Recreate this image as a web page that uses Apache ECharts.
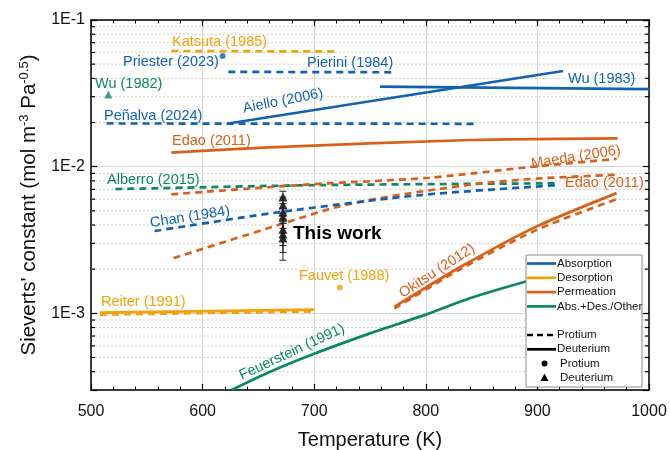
<!DOCTYPE html>
<html><head><meta charset="utf-8">
<script src="https://cdn.jsdelivr.net/npm/echarts@6/dist/echarts.min.js"></script>
<style>html,body{margin:0;padding:0;background:#fff}#c{width:670px;height:450px}</style>
</head><body><div id="c"></div>
<script>
// ---------- data ----------
const xTicks = [500, 600, 700, 800, 900, 1000];
const yTickLabels = ['1E-3', '1E-2', '1E-1'];
const minorY = [4e-4,5e-4,6e-4,7e-4,8e-4,9e-4, 2e-3,3e-3,4e-3,5e-3,6e-3,7e-3,8e-3,9e-3, 2e-2,3e-2,4e-2,5e-2,6e-2,7e-2,8e-2,9e-2];

// Absorption (blue)
const pierini = [[623, 0.0443], [770, 0.0440]];                 // protium, dashed
const penalva = [[514, 0.0197], [846, 0.0196]];                 // protium, dashed
const aiello  = [[623, 0.0197], [923, 0.0449]];                 // deuterium, solid
const wu1983  = [[759, 0.0351], [1000, 0.0338]];                // deuterium, solid
const chan    = [[557, 0.00364], [669, 0.0049], [795, 0.0064], [920, 0.0075]]; // protium, dashed
const priester = [[618, 0.0568]];                               // protium point
// Desorption (orange-yellow)
const katsuta = [[572, 0.0615], [720, 0.0610]];                 // protium, dashed
const reiterD = [[508, 0.00101], [700, 0.00106]];               // deuterium, solid
const reiterP = [[508, 0.00098], [700, 0.00103]];               // protium, dashed
const fauvet  = [[723, 0.00150]];                               // protium point
// Permeation (dark orange)
const edaoD   = [[572, 0.01245], [660, 0.01355], [840, 0.0152], [972, 0.0156]];
const edaoP   = [[574, 0.00238], [669, 0.00403], [720, 0.0053], [759, 0.0061], [795, 0.00675], [850, 0.0077], [900, 0.0083], [971, 0.0088]];
const maeda   = [[572, 0.00647], [687, 0.0075], [803, 0.0084], [891, 0.0099], [971, 0.0113]];
const okitsuD = [[772, 0.00111], [831, 0.00207], [899, 0.0039], [971, 0.0066]];
const okitsuP = [[772, 0.00108], [831, 0.00200], [899, 0.0037], [971, 0.0060]];
// Abs.+Des./Other (green)
const alberro = [[522, 0.00703], [705, 0.00749], [920, 0.0077]];
const feuer   = [[626, 0.0003], [660, 0.000398], [700, 0.00053], [750, 0.00073], [800, 0.00098], [840, 0.00127], [889, 0.00164], [930, 0.00198]];
const wu1982  = [[515.5, 0.0311]];
// This work (deuterium)
const thisT   = 672;
const thisV   = [0.00621, 0.00547, 0.00490, 0.00453, 0.00375, 0.00347, 0.00326];
const thisLo  = [0.0056, 0.0048, 0.0042, 0.0038, 0.0029, 0.0026, 0.0023];
const thisHi  = [0.0068, 0.0062, 0.0056, 0.0052, 0.0046, 0.0044, 0.0041];

// ---------- styles ----------
const ABS = '#1262b3', DES = '#f5a20a', PER = '#d9601a', GRN = '#0b8866';
const FONT = '"Liberation Sans", Arial, sans-serif';
const DASH = [7, 5];

function line(data, color, dashed, w) {
  return { type: 'line', data: data, showSymbol: false, symbol: 'none',
    smooth: data.length > 2 ? 0.25 : false,
    lineStyle: { color: color, width: w || 2.7, type: dashed ? DASH : 'solid', cap: 'butt' }, z: 3, silent: true };
}
function pts(data, color, sym, size) {
  return { type: 'scatter', data: data, symbol: sym, symbolSize: size, itemStyle: { color: color }, z: 4, silent: true };
}

const chart = echarts.init(document.getElementById('c'), null, { renderer: 'canvas' });
const G = { left: 91, right: 21, top: 20, bottom: 60, containLabel: false, outerBoundsMode: 'none' };

function logLabel(v) {
  const l = Math.log10(v), n = Math.round(l);
  if (Math.abs(l - n) > 1e-6) return '';
  const s = '1E' + n;
  return yTickLabels.indexOf(s) >= 0 ? s : '';
}

const series = [
  { type: 'custom', silent: true, z: 1, data: minorY.map(v => [500, v]),
    renderItem: function (params, api) {
      const v = api.value(1);
      const a = api.coord([500, v]), b = api.coord([1000, v]);
      return { type: 'group', children: [
        { type: 'line', shape: { x1: a[0], y1: a[1], x2: b[0], y2: b[1] }, style: { stroke: '#cfcfcf', lineWidth: 1, lineDash: [2, 2] } },
        { type: 'line', shape: { x1: a[0], y1: a[1], x2: a[0] + 4, y2: a[1] }, style: { stroke: '#000', lineWidth: 1.2 } },
        { type: 'line', shape: { x1: b[0], y1: b[1], x2: b[0] - 4, y2: b[1] }, style: { stroke: '#000', lineWidth: 1.2 } }
      ] };
    } },
  line(katsuta, DES, true), line(reiterP, DES, true), line(reiterD, DES, false),
  line(feuer, GRN, false), line(alberro, GRN, true),
  line(edaoD, PER, false), line(edaoP, PER, true), line(maeda, PER, true),
  line(okitsuP, PER, true), line(okitsuD, PER, false),
  line(pierini, ABS, true), line(penalva, ABS, true), line(chan, ABS, true),
  line(aiello, ABS, false), line(wu1983, ABS, false),
  pts(priester, ABS, 'circle', 6), pts(fauvet, DES, 'circle', 6), pts(wu1982, GRN, 'triangle', 8),
  { type: 'custom', silent: true, z: 5, data: thisV.map((v, i) => [thisT, v, thisLo[i], thisHi[i]]),
    renderItem: function (params, api) {
      const lo = api.coord([api.value(0), api.value(2)]), hi = api.coord([api.value(0), api.value(3)]);
      const st = { stroke: '#222', lineWidth: 1 };
      return { type: 'group', children: [
        { type: 'line', shape: { x1: lo[0], y1: lo[1], x2: hi[0], y2: hi[1] }, style: st },
        { type: 'line', shape: { x1: lo[0] - 3.5, y1: lo[1], x2: lo[0] + 3.5, y2: lo[1] }, style: st },
        { type: 'line', shape: { x1: hi[0] - 3.5, y1: hi[1], x2: hi[0] + 3.5, y2: hi[1] }, style: st }
      ] };
    } },
  pts(thisV.map(v => [thisT, v]), '#000', 'triangle', 9)
];

const labels = [
  ['Katsuta (1985)', DES, 172, 42, 0, 'left'],
  ['Priester (2023)', ABS, 123, 62, 0, 'left'],
  ['Pierini (1984)', ABS, 307, 63, 0, 'left'],
  ['Wu (1982)', GRN, 95, 84, 0, 'left'],
  ['Wu (1983)', ABS, 568, 79, 0, 'left'],
  ['Peñalva (2024)', ABS, 104, 116, 0, 'left'],
  ['Aiello (2006)', ABS, 283, 101, 11, 'center'],
  ['Edao (2011)', PER, 172, 141, 0, 'left'],
  ['Maeda (2006)', PER, 576, 157, 9, 'center'],
  ['Edao (2011)', PER, 565, 183, 0, 'left'],
  ['Alberro (2015)', GRN, 107, 180, 0, 'left'],
  ['Chan (1984)', ABS, 190, 217, 9, 'center'],
  ['Fauvet (1988)', DES, 299, 276, 0, 'left'],
  ['Okitsu (2012)', PER, 437, 271, 33, 'center'],
  ['Reiter (1991)', DES, 101, 302, 0, 'left'],
  ['Feuerstein (1991)', GRN, 292, 352, 25, 'center']
];
const graphics = labels.map(l => ({ type: 'text', x: l[2], y: l[3], rotation: l[4] * Math.PI / 180, z: 50,
  style: { text: l[0], fill: l[1], font: '14.5px ' + FONT, textAlign: l[5], textVerticalAlign: 'middle' } }));
graphics.push({ type: 'text', x: 293, y: 234, z: 50, style: { text: 'This work', fill: '#000', font: 'bold 19px ' + FONT, textAlign: 'left', textVerticalAlign: 'middle' } });

// legend
const LX = 526, LY = 255, LZ = 80;
const leg = [{ type: 'rect', z: LZ, shape: { x: 0, y: 0, width: 116, height: 132 }, style: { fill: '#fff', stroke: '#8a8a8a', lineWidth: 1 } }];
const legItems = [['Absorption', ABS], ['Desorption', DES], ['Permeation', PER], ['Abs.+Des./Other', GRN]];
function legText(t, x, y) {
  return { type: 'text', z: LZ + 1, x: x, y: y, style: { text: t, fill: '#111', font: '11.5px ' + FONT, textVerticalAlign: 'middle' } };
}
legItems.forEach((it, i) => {
  const y = 8.5 + i * 14.3;
  leg.push({ type: 'line', z: LZ + 1, shape: { x1: 1, y1: y, x2: 30, y2: y }, style: { stroke: it[1], lineWidth: 2.7 } });
  leg.push(legText(it[0], 31, y));
});
leg.push({ type: 'line', z: LZ + 1, shape: { x1: 1, y1: 80, x2: 30, y2: 80 }, style: { stroke: '#000', lineWidth: 2.7, lineDash: [6, 4] } });
leg.push(legText('Protium', 31, 80));
leg.push({ type: 'line', z: LZ + 1, shape: { x1: 1, y1: 94.3, x2: 30, y2: 94.3 }, style: { stroke: '#000', lineWidth: 2.7 } });
leg.push(legText('Deuterium', 31, 94.3));
leg.push({ type: 'circle', z: LZ + 1, shape: { cx: 18.5, cy: 108.5, r: 3 }, style: { fill: '#000' } });
leg.push(legText('Protium', 34, 108.5));
leg.push({ type: 'polygon', z: LZ + 1, shape: { points: [[18.5, 118.5], [22.5, 126], [14.5, 126]] }, style: { fill: '#000' } });
leg.push(legText('Deuterium', 34, 122.7));
graphics.push({ type: 'group', x: LX, y: LY, z: LZ, children: leg });

const axisLine = { show: true, onZero: false, lineStyle: { color: '#000', width: 1.5 } };
chart.setOption({
  animation: false,
  textStyle: { fontFamily: FONT },
  grid: G,
  xAxis: [
    { type: 'value', min: 500, max: 1000, interval: 100, position: 'bottom', axisLine: axisLine,
      axisTick: { inside: true, length: 6, lineStyle: { color: '#000', width: 1.2 } },
      minorTick: { show: true, splitNumber: 5, length: 3.5, lineStyle: { color: '#000', width: 1 } },
      splitLine: { show: true, lineStyle: { color: '#d8d8d8', width: 1 } },
      axisLabel: { fontSize: 16, color: '#111', margin: 14, fontFamily: FONT,
        formatter: v => xTicks.indexOf(v) >= 0 ? String(v) : '' },
      name: 'Temperature (K)', nameLocation: 'middle', nameGap: 40,
      nameTextStyle: { fontSize: 20, color: '#111', fontFamily: FONT } },
    { type: 'value', min: 500, max: 1000, interval: 100, position: 'top', axisLine: axisLine,
      axisTick: { inside: true, length: 6, lineStyle: { color: '#000', width: 1.2 } },
      minorTick: { show: true, splitNumber: 5, length: 3.5, lineStyle: { color: '#000', width: 1 } },
      splitLine: { show: false }, axisLabel: { show: false } }
  ],
  yAxis: [
    { type: 'log', logBase: 10, min: 3e-4, max: 0.1, position: 'left', axisLine: axisLine,
      axisTick: { inside: true, length: 6, lineStyle: { color: '#000', width: 1.2 } },
      splitLine: { show: true, lineStyle: { color: '#d8d8d8', width: 1 } },
      axisLabel: { fontSize: 16, color: '#111', margin: 6, fontFamily: FONT, formatter: logLabel },
      name: "Sieverts' constant (mol m{sup|-3} Pa{sup|-0.5})", nameLocation: 'middle', nameGap: 49, nameRotate: 90,
      nameTextStyle: { fontSize: 20.5, color: '#111', fontFamily: FONT,
        rich: { sup: { fontSize: 13, color: '#111', fontFamily: FONT, padding: [0, 0, 10, 0] } } } },
    { type: 'log', logBase: 10, min: 3e-4, max: 0.1, position: 'right', axisLine: axisLine,
      axisTick: { inside: true, length: 6, lineStyle: { color: '#000', width: 1.2 } },
      splitLine: { show: false }, axisLabel: { show: false } }
  ],
  series: series,
  graphic: graphics
});
</script></body></html>
